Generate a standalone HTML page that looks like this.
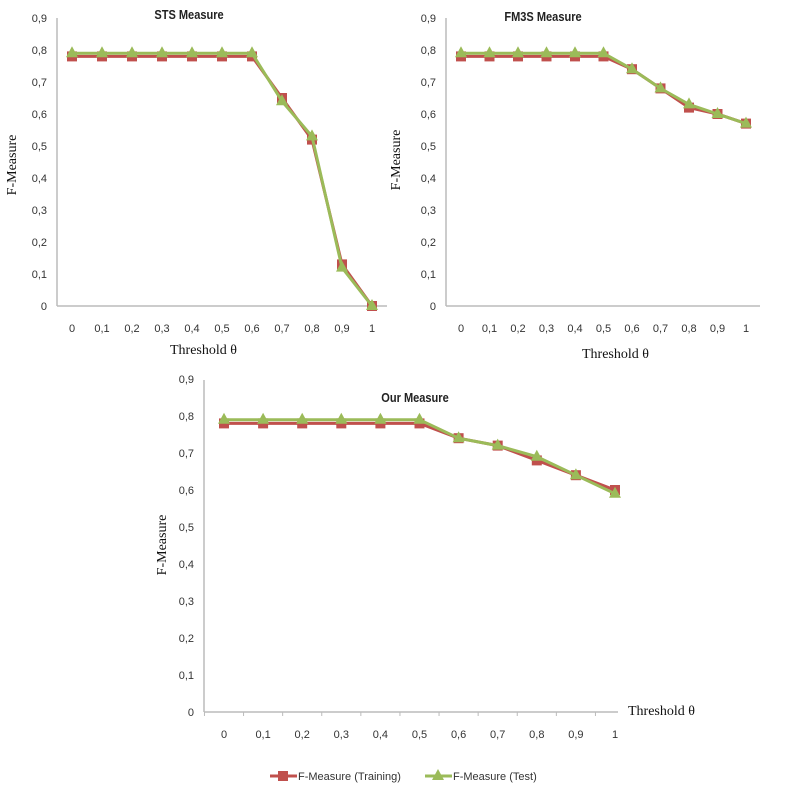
<!DOCTYPE html>
<html><head><meta charset="utf-8"><style>
body{margin:0;background:#fff;width:800px;height:793px;overflow:hidden}
svg{display:block}
text{font-family:"Liberation Sans",sans-serif}
text.serif{font-family:"Liberation Serif",serif}
</style></head><body>
<svg id="s" width="800" height="793"></svg>
<script>
const categories=["0","0,1","0,2","0,3","0,4","0,5","0,6","0,7","0,8","0,9","1"];
const yTicks=["0","0,1","0,2","0,3","0,4","0,5","0,6","0,7","0,8","0,9"];
const stsTrain=[.78,.78,.78,.78,.78,.78,.78,.65,.52,.13,0];
const stsTest=[.79,.79,.79,.79,.79,.79,.79,.64,.53,.12,0];
const fm3sTrain=[.78,.78,.78,.78,.78,.78,.74,.68,.62,.60,.57];
const fm3sTest=[.79,.79,.79,.79,.79,.79,.74,.68,.63,.60,.57];
const oursTrain=[.78,.78,.78,.78,.78,.78,.74,.72,.68,.64,.60];
const oursTest=[.79,.79,.79,.79,.79,.79,.74,.72,.69,.64,.59];
const NS="http://www.w3.org/2000/svg";
const svg=document.getElementById('s');
function mk(tag,attrs,parent){const e=document.createElementNS(NS,tag);for(const k in attrs)e.setAttribute(k,attrs[k]);(parent||svg).appendChild(e);return e;}
function txt(t,attrs,parent){const e=mk('text',attrs,parent);e.textContent=t;return e;}
function chart(o){
  const g=mk('g',{});
  
  
  const yS=v=>o.y0-v*o.py;
  const xS=i=>o.x0+i*o.step;
  const ax=mk('line',{x1:o.ax,y1:o.y0,x2:o.axEnd,y2:o.y0,stroke:'#bbb','stroke-width':1.5},g);
  
  
  const ay=mk('line',{x1:o.ax,y1:o.yTop,x2:o.ax,y2:o.y0,stroke:'#bbb','stroke-width':1.5},g);
  
  
  yTicks.forEach((t,i)=>{const y=yS(i/10);if(y<o.yTop-4)return;
    const e=txt(t,{x:o.ax-10,y:y+4,'text-anchor':'end','font-size':11,fill:'#333'},g);
    
    });
  categories.forEach((c,i)=>{
    if(o.ticks){mk('line',{x1:xS(i)-o.step/2,y1:o.y0,x2:xS(i)-o.step/2,y2:o.y0+4,stroke:'#bbb'},g);}
    const e=txt(c,{x:xS(i),y:o.y0+26,'text-anchor':'middle','font-size':11,fill:'#333'},g);
    
    });
  function series(vals,color,shape,nm){
    const p=mk('polyline',{points:vals.map((v,i)=>xS(i)+','+yS(v)).join(' '),fill:'none',stroke:color,'stroke-width':3},g);
    
    
    vals.forEach((v,i)=>{const x=xS(i),y=yS(v);let m;
      if(shape==='sq')m=mk('rect',{x:x-5,y:y-5,width:10,height:10,fill:color},g);
      else m=mk('polygon',{points:`${x},${y-7} ${x-6},${y+4} ${x+6},${y+4}`,fill:color},g);
      
      });
  }
  series(o.train,'#c0504d','sq','training');
  series(o.test,'#9bbb59','tri','test');
  const t=txt(o.title,{x:o.tx,y:o.ty,'text-anchor':'middle','font-size':13,'font-weight':'bold',fill:'#222',transform:`translate(${o.tx},${o.ty}) scale(0.85,1) translate(${-o.tx},${-o.ty})`},g);
  
  
  const xl=txt('Threshold θ',{x:o.xlx,y:o.xly,'font-size':14,'class':'serif',fill:'#111'},g);
  
  
  const yl=txt('F-Measure',{x:0,y:0,'text-anchor':'middle','font-size':14,'class':'serif',fill:'#111',transform:`translate(${o.ylx},${o.yly}) rotate(-90)`},g);
  
  
}
chart({name:'sts-chart',title:'STS Measure',ax:57,axEnd:387,x0:72,step:30,y0:306,py:320,yTop:18,train:stsTrain,test:stsTest,tx:189,ty:19,xlx:170,xly:354,ylx:16,yly:165,ticks:false});
chart({name:'fm3s-chart',title:'FM3S Measure',ax:446,axEnd:760,x0:461,step:28.5,y0:306,py:320,yTop:18,train:fm3sTrain,test:fm3sTest,tx:543,ty:21,xlx:582,xly:358,ylx:400,yly:160,ticks:false});
chart({name:'our-chart',title:'Our Measure',ax:204,axEnd:618,x0:224,step:39.1,y0:712,py:370,yTop:380,train:oursTrain,test:oursTest,tx:415,ty:402,xlx:628,xly:715,ylx:166,yly:545,ticks:true});
const lg=mk('g',{});


mk('line',{x1:270,y1:776,x2:297,y2:776,stroke:'#c0504d','stroke-width':3},lg);
mk('rect',{x:278,y:771,width:10,height:10,fill:'#c0504d'},lg);
const l1=txt('F-Measure (Training)',{x:298,y:780,'font-size':11,fill:'#333'},lg);


mk('line',{x1:425,y1:776,x2:452,y2:776,stroke:'#9bbb59','stroke-width':3},lg);
mk('polygon',{points:'438,769 432,780 444,780',fill:'#9bbb59'},lg);
const l2=txt('F-Measure (Test)',{x:453,y:780,'font-size':11,fill:'#333'},lg);


</script>
</body></html>
